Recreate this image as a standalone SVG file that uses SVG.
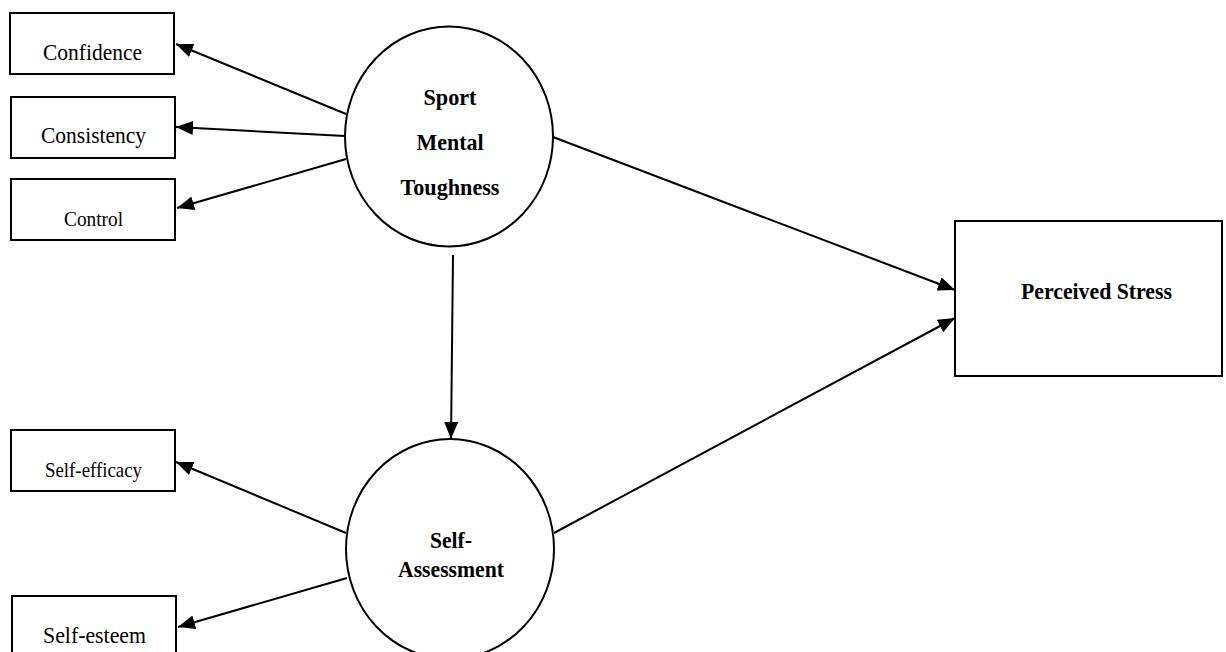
<svg xmlns="http://www.w3.org/2000/svg" width="1226" height="652" viewBox="0 0 1226 652">
<style>
.box{fill:#fff;stroke:#000;stroke-width:2}
.lat{fill:#fff;stroke:#000;stroke-width:2}
.t{font-family:"Liberation Serif","Times New Roman",serif;fill:#000;text-anchor:middle}
.b{font-weight:bold;font-size:24px}
.e{stroke:#000;stroke-width:2;fill:none;marker-end:url(#ah)}
</style>
<defs>
<marker id="ah" markerUnits="userSpaceOnUse" markerWidth="18" markerHeight="14" refX="17" refY="7" orient="auto">
<path d="M0,0 L17,7 L0,14 Z" fill="#000"/>
</marker>
</defs>
<rect width="1226" height="652" fill="#fff"/>
<g id="edges">
<line class="e" x1="346" y1="114" x2="176" y2="44"/>
<line class="e" x1="345" y1="136" x2="176" y2="127"/>
<line class="e" x1="346" y1="159" x2="177" y2="208"/>
<line class="e" x1="346" y1="533" x2="176" y2="462"/>
<line class="e" x1="347" y1="578" x2="178" y2="627"/>
<line class="e" x1="453" y1="255" x2="451" y2="439"/>
<line class="e" x1="553" y1="137" x2="955" y2="290"/>
<line class="e" x1="554" y1="533" x2="955" y2="318"/>
</g>
<g id="confidence"><rect class="box" x="10" y="13" width="164" height="61"/><text class="t" x="92.5" y="60" font-size="24" textLength="99" lengthAdjust="spacingAndGlyphs">Confidence</text></g>
<g id="consistency"><rect class="box" x="11" y="97" width="164" height="61"/><text class="t" x="93.5" y="143" font-size="24" textLength="105" lengthAdjust="spacingAndGlyphs">Consistency</text></g>
<g id="control"><rect class="box" x="11" y="179" width="164" height="61"/><text class="t" x="93.5" y="226" font-size="21" textLength="59" lengthAdjust="spacingAndGlyphs">Control</text></g>
<g id="self-efficacy"><rect class="box" x="11" y="430" width="164" height="61"/><text class="t" x="93.5" y="477" font-size="21" textLength="97" lengthAdjust="spacingAndGlyphs">Self-efficacy</text></g>
<g id="self-esteem"><rect class="box" x="12" y="596" width="164" height="70"/><text class="t" x="94.5" y="643" font-size="24" textLength="103" lengthAdjust="spacingAndGlyphs">Self-esteem</text></g>
<g id="smt"><ellipse class="lat" cx="449" cy="136.5" rx="104" ry="110"/>
<text class="t b" x="450" y="105" textLength="53" lengthAdjust="spacingAndGlyphs">Sport</text>
<text class="t b" x="450" y="150" textLength="67" lengthAdjust="spacingAndGlyphs">Mental</text>
<text class="t b" x="450" y="195" textLength="99" lengthAdjust="spacingAndGlyphs">Toughness</text></g>
<g id="sa"><ellipse class="lat" cx="450" cy="549" rx="104" ry="110"/>
<text class="t b" x="451" y="548" textLength="42" lengthAdjust="spacingAndGlyphs">Self-</text>
<text class="t b" x="451" y="577" textLength="106" lengthAdjust="spacingAndGlyphs">Assessment</text></g>
<g id="ps"><rect class="box" x="955" y="221" width="267" height="155"/><text class="t b" x="1096.5" y="299" textLength="151" lengthAdjust="spacingAndGlyphs">Perceived Stress</text></g>
</svg>
